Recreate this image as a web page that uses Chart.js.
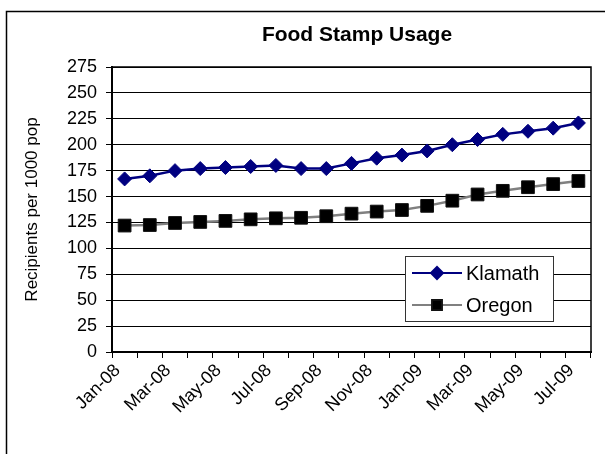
<!DOCTYPE html>
<html>
<head>
<meta charset="utf-8">
<script src="https://cdn.jsdelivr.net/npm/chart.js@4.4.1/dist/chart.umd.min.js"></script>
<style>
  body { margin: 0; background: #fff; overflow: hidden; }
  #wrap { position: relative; width: 605px; height: 454px; }
  #title {
    position: absolute; left: 237px; width: 240px; top: 22px;
    text-align: center; font: bold 21px "Liberation Sans", Arial, sans-serif; color: #000;
  }
</style>
</head>
<body>
<div id="wrap">
  <canvas id="foodChart" width="605" height="454"></canvas>
  <div id="title">Food Stamp Usage</div>
</div>
<script>
// data
const months = ['Jan-08', 'Feb-08', 'Mar-08', 'Apr-08', 'May-08', 'Jun-08', 'Jul-08', 'Aug-08', 'Sep-08', 'Oct-08',
                'Nov-08', 'Dec-08', 'Jan-09', 'Feb-09', 'Mar-09', 'Apr-09', 'May-09', 'Jun-09', 'Jul-09'];
const klamath = [167, 170, 175, 177, 178, 179, 180, 177, 177, 182, 187, 190, 194, 200, 205, 210, 213, 216, 221];
const oregon = [122, 122.5, 124.5, 125.5, 126.5, 128, 129, 129.5, 131, 133.5, 135.5, 137, 141, 146, 152, 155.5, 159, 162, 165];
const yMin = 0, yMax = 275, yStep = 25;

const FONT = '"Liberation Sans", Arial, sans-serif';

// outer frame + plot area border
const framePlugin = {
    id: 'frame',
    beforeDraw(chart) {
        const ctx = chart.ctx;
        ctx.save();
        ctx.strokeStyle = '#000';
        ctx.lineWidth = 1.5;
        ctx.strokeRect(6.5, 11.5, 700, 600);
        ctx.restore();
    },
    beforeDatasetsDraw(chart) {
        const a = chart.chartArea;
        const ctx = chart.ctx;
        ctx.save();
        ctx.strokeStyle = '#000';
        ctx.lineWidth = 1.5;
        ctx.strokeRect(a.left, a.top, a.right - a.left, a.bottom - a.top);
        ctx.restore();
    }
};

// legend box inside the plot, like the spreadsheet one
const boxLegend = {
    id: 'boxLegend',
    afterDraw(chart) {
        const ctx = chart.ctx;
        const x = 405, y = 256, w = 148, h = 65;
        ctx.save();
        ctx.fillStyle = '#fff';
        ctx.fillRect(x, y, w, h);
        ctx.strokeStyle = '#333';
        ctx.lineWidth = 1;
        ctx.strokeRect(x + 0.5, y + 0.5, w, h);
        chart.data.datasets.forEach(function(ds, i) {
            const cy = y + 17 + i * 32;
            ctx.strokeStyle = ds.borderColor;
            ctx.lineWidth = 2;
            ctx.beginPath();
            ctx.moveTo(x + 7, cy);
            ctx.lineTo(x + 57, cy);
            ctx.stroke();
            ctx.fillStyle = ds.pointBackgroundColor;
            ctx.strokeStyle = ds.pointBorderColor;
            Chart.helpers.drawPoint(ctx, {
                pointStyle: ds.pointStyle,
                radius: ds.pointStyle === 'rect' ? 7 : 6,
                rotation: 0,
                borderWidth: 1
            }, x + 32, cy);
            ctx.fillStyle = '#000';
            ctx.font = '20px ' + FONT;
            ctx.textBaseline = 'middle';
            ctx.textAlign = 'left';
            ctx.fillText(ds.label, x + 61, cy + 1);
        });
        ctx.restore();
    }
};

const ctx = document.getElementById('foodChart').getContext('2d');
const foodChart = new Chart(ctx, {
    type: 'line',
    data: {
        labels: months,
        datasets: [{
            label: 'Klamath',
            data: klamath,
            borderColor: '#000080',
            borderWidth: 2.5,
            pointStyle: 'rectRot',
            pointRadius: 7,
            pointBackgroundColor: '#000080',
            pointBorderColor: '#000080',
            pointBorderWidth: 1,
            tension: 0
        }, {
            label: 'Oregon',
            data: oregon,
            borderColor: '#808080',
            borderWidth: 2.5,
            pointStyle: 'rect',
            pointRadius: 9,
            pointBackgroundColor: '#000',
            pointBorderColor: '#111',
            pointBorderWidth: 1,
            tension: 0
        }]
    },
    options: {
        responsive: false,
        animation: false,
        layout: { padding: { left: 6, right: 14, top: 67, bottom: 0 } },
        plugins: {
            legend: { display: false },
            tooltip: { enabled: false }
        },
        scales: {
            x: {
                offset: true,
                grid: { offset: true, drawOnChartArea: false, drawTicks: true, tickLength: 6, color: '#000' },
                border: { color: '#000', width: 2 },
                ticks: {
                    autoSkip: false,
                    minRotation: 45,
                    maxRotation: 45,
                    color: '#000',
                    padding: 2,
                    labelOffset: -7,
                    font: { family: FONT, size: 18 },
                    callback: function(val, index) {
                        return index % 2 === 0 ? months[index] : '';
                    }
                },
                afterFit: function(scale) { scale.height = 102; }
            },
            y: {
                min: yMin,
                max: yMax,
                grid: { color: '#000', lineWidth: 1, tickLength: 6 },
                border: { color: '#000', width: 2 },
                ticks: {
                    stepSize: yStep,
                    color: '#000',
                    padding: 9,
                    font: { family: FONT, size: 18 }
                },
                title: {
                    display: true,
                    text: 'Recipients per 1000 pop',
                    color: '#000',
                    font: { family: FONT, size: 17 },
                    padding: { top: 16, bottom: 0 }
                },
                afterFit: function(scale) { scale.width = 106; }
            }
        }
    },
    plugins: [framePlugin, boxLegend]
});
</script>
</body>
</html>
